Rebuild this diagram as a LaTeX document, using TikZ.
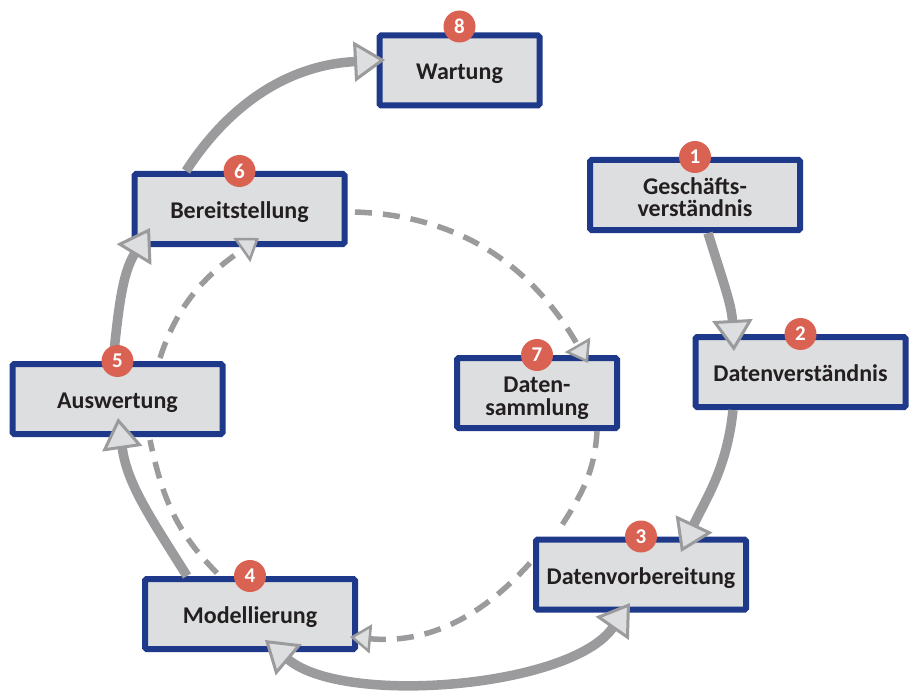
\documentclass[tikz,border=0pt]{standalone}
\usepackage{fontspec}
\setmainfont{Carlito}
\usetikzlibrary{arrows.meta}
\definecolor{boxblue}{RGB}{30,57,138}
\definecolor{boxfill}{RGB}{221,222,223}
\definecolor{badgered}{RGB}{218,98,82}
\definecolor{arrowgray}{RGB}{155,155,157}
\definecolor{tipfill}{RGB}{221,222,223}
\definecolor{txt}{RGB}{35,31,32}
\begin{document}
\begin{tikzpicture}[x=1pt,y=1pt,
  stage/.style={draw=boxblue, fill=boxfill, line width=6pt, rounded corners=1.5pt,
    minimum width=210pt, minimum height=70pt, inner sep=0pt, align=center,
    font=\fontsize{24}{23}\selectfont\bfseries, text=txt,
    text height=20pt, text depth=1pt},
  stagenarrow/.style={stage, minimum width=160pt},
  twoline/.style={text height=44pt, text depth=0pt},
  badge/.style={circle, fill=badgered, minimum size=32pt, inner sep=0pt, text=white,
    font=\fontsize{21}{21}\selectfont\bfseries},
  bigtip/.tip={Triangle[length=31pt,width=40pt,line width=3pt,fill=tipfill]},
  smalltip/.tip={Triangle[length=21pt,width=29pt,line width=2.5pt,fill=tipfill]},
  flow/.style={draw=arrowgray, line width=9.5pt, -bigtip},
  flowtwo/.style={draw=arrowgray, line width=9.5pt, bigtip-bigtip},
  loopline/.style={draw=arrowgray, line width=5.5pt, dash pattern=on 17pt off 11pt},
  looptip/.style={loopline, -smalltip},
]
\useasboundingbox (0,0) rectangle (919,-698);

% stages
\node[stagenarrow] (n8) at (459.5,-70.5) {Wartung};
\node[stage, twoline] (n1) at (695,-195) {Geschäfts-\\verständnis};
\node[stage] (n2) at (800.5,-372) {Datenverständnis};
\node[stage] (n6) at (239.5,-209) {Bereitstellung};
\node[stagenarrow, twoline] (n7) at (537,-393) {Daten-\\sammlung};
\node[stage] (n5) at (117.5,-399) {Auswertung};
\node[stage] (n3) at (641,-574.5) {Datenvorbereitung};
\node[stage] (n4) at (250,-614) {Modellierung};

% dashed inner loop
\draw[looptip] ([shift={(115.5,-3)}]n6.center) to[out=-2,in=120] ([shift={(51,30)}]n7.center);
\draw[loopline] ([xshift=60pt]n7.south) to[out=-93,in=57] ([shift={(-84.5,3)}]n3.north);
\draw[looptip] ([shift={(-3,11.5)}]n3.west) to[out=-132,in=-5] ([shift={(100,-23)}]n4.center);
\draw[loopline] ([shift={(-33,3)}]n4.north) to[out=135,in=-78] ([shift={(32.5,-3)}]n5.south);
\draw[looptip] ([shift={(42.5,3)}]n5.north) to[out=72,in=215] ([shift={(19.5,-29)}]n6.center);

% solid outer cycle
\draw[flow] ([xshift=13pt]n1.south) to[out=-73,in=93] ([shift={(-66.5,21)}]n2.center);
\draw[flow] ([xshift=-67.5pt]n2.south) to[out=-96,in=65] ([shift={(40,22.5)}]n3.center);
\draw[flowtwo] ([shift={(15,-26)}]n4.center) to[out=-40,in=-125,looseness=0.72] ([shift={(-11,-28.5)}]n3.center);
\draw[flow] ([xshift=-63pt]n4.north) to[out=122,in=-82] ([shift={(0.5,-19)}]n5.center);
\draw[flow] ([xshift=-4.5pt]n5.north) to[out=84,in=-121] ([shift={(-89.5,-19)}]n6.center);
\draw[flow] ([xshift=-53.5pt]n6.north) to[out=57,in=183] ([shift={(-74.5,10.5)}]n8.center);

% badges
\node[badge] (b1) at (n1.north) {1};
\node[badge] (b2) at (n2.north) {2};
\node[badge] (b3) at (n3.north) {3};
\node[badge] (b4) at (n4.north) {4};
\node[badge] (b5) at (n5.north) {5};
\node[badge] (b6) at (n6.north) {6};
\node[badge] (b7) at (n7.north) {7};
\node[badge] (b8) at ([yshift=6pt]n8.north) {8};
\end{tikzpicture}
\end{document}
